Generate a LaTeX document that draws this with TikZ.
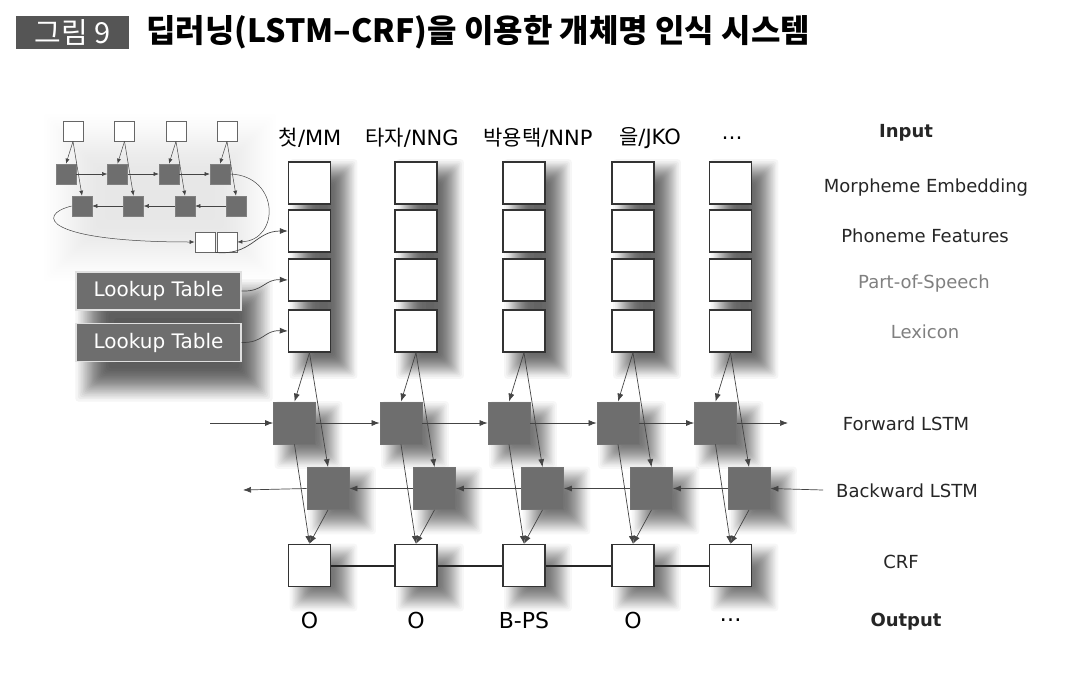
\documentclass[tikz,border=0pt]{standalone}
\usepackage{fontspec}
\setmainfont{DejaVu Sans}
\newfontfamily\kr{Noto Sans CJK KR}
\usetikzlibrary{arrows.meta}

\definecolor{boxgray}{HTML}{6E6E6E}
\definecolor{linegray}{HTML}{444444}
\definecolor{titlegray}{HTML}{555555}

% soft shadow: x1 y1 x2 y2 spread opacity-per-layer
\newcommand\softshade[6]{%
  \foreach \k in {1,...,24}{
    \pgfmathsetmacro\s{0.5-sin(asin(1-2*\k/24)/3)}
    \pgfmathsetmacro\d{#5*(0.5-\s)}
    \fill[black, opacity=#6, rounded corners=3pt] ({#1-\d},{#2-\d}) rectangle ({#3+\d},{#4+\d});
  }}

\tikzset{
  wbox/.style={draw=black!80, line width=1.4pt, fill=white, minimum size=42pt, inner sep=0pt},
  gbox/.style={draw=black!55, line width=0.8pt, fill=boxgray, minimum size=42pt, inner sep=0pt},
  sbox/.style={draw=black!60, line width=0.8pt, fill=white, minimum size=20pt, inner sep=0pt},
  sgbox/.style={draw=black!50, line width=0.6pt, fill=boxgray, minimum size=20pt, inner sep=0pt},
  link/.style={draw=linegray, line width=0.7pt, -{Latex[length=8pt,width=6pt]}},
  slink/.style={draw=linegray, line width=0.5pt, -{Latex[length=5pt,width=4pt]}},
  lut/.style={fill=boxgray, draw=black!12, line width=1.2pt, minimum width=165pt, minimum height=38pt,
    inner sep=0pt, text=white, font=\fontsize{20}{24}\selectfont},
  lab/.style={font=\fontsize{18}{22}\selectfont, text=black!85},
}

\begin{document}
\begin{tikzpicture}[x=1pt,y=-1pt]
\fill[white] (0,0) rectangle (1078,688);
\useasboundingbox (0,0) rectangle (1078,688);

% title
\node[fill=titlegray, text=white, minimum width=113pt, minimum height=33pt, inner sep=0pt,
  font=\kr\fontsize{29}{32}\selectfont] (fignum) at (72.5,32.5) {그림 9};
\node[anchor=west, inner sep=0pt, font=\kr\bfseries\fontsize{32}{36}\selectfont] (title) at (146,32)
  {딥러닝(LSTM–CRF)을 이용한 개체명 인식 시스템};

% shadows
\softshade{70}{140}{250}{255}{70}{0.005}
\softshade{92}{296}{256}{385}{44}{0.04}
\foreach \x in {309.5,416,524,633,730.5}{
  \softshade{\x-7}{172}{\x+35}{366}{34}{0.034}
  \softshade{\x-22}{414}{\x+20}{456}{34}{0.03}
  \softshade{\x+11.5}{479.5}{\x+53.5}{521.5}{34}{0.03}
  \softshade{\x-7}{556.5}{\x+35}{598.5}{34}{0.03}
}

% word columns
\foreach \x [count=\i] in {309.5,416,524,633,730.5}{
  \foreach \r/\y in {1/183,2/231,3/280,4/331}
    \node[wbox] (e\i-\r) at (\x,\y) {};
  \node[gbox] (fw\i) at (\x-15,423) {};
  \node[gbox] (bw\i) at (\x+18.5,488.5) {};
  \node[wbox] (crf\i) at (\x,565.5) {};
  \draw[link] (e\i-4.south) -- (fw\i.north);
  \draw[link] (e\i-4.south) -- (bw\i.north);
  \draw[link] (fw\i.south) -- (crf\i.north);
  \draw[link] (bw\i.south) -- (crf\i.north);
}
\foreach \i/\j in {1/2,2/3,3/4,4/5}{
  \draw[link] (fw\i.east) -- (fw\j.west);
  \draw[link] (bw\j.west) -- (bw\i.east);
  \draw[line width=2pt, black!85] (crf\i.east) -- (crf\j.west);
}
\coordinate (fwin) at (210,423);
\coordinate (fwout) at (788,423);
\coordinate (bwin) at (823,490);
\coordinate (bwout) at (243,490);
\draw[link] (fwin) -- (fw1.west);
\draw[link] (fw5.east) -- (fwout);
\draw[link] (bwin) -- (bw5.east);
\draw[link] (bw1.west) -- (bwout);

% words
\node[font=\fontsize{21}{25}\selectfont] (w1) at (310,138) {{\kr 첫}/MM};
\node[font=\fontsize{21}{25}\selectfont] (w2) at (412,138) {{\kr 타자}/NNG};
\node[font=\fontsize{21}{25}\selectfont] (w3) at (538,138) {{\kr 박용택}/NNP};
\node[font=\fontsize{21}{25}\selectfont] (w4) at (650,138) {{\kr 을}/JKO};
\node[font=\fontsize{21}{25}\selectfont] (w5) at (732,138) {\ldots};

% tags
\foreach \x/\t [count=\i] in {309.5/O,416/O,524/B-PS,633/O,730.5/\ldots}
  \node[font=\fontsize{22}{26}\selectfont] (t\i) at (\x,620) {\t};

% character network
\foreach \x [count=\i] in {73,124.5,176,227}{
  \node[sbox] (ct\i) at (\x,131) {};
  \node[sgbox] (cf\i) at (\x-7,174) {};
  \node[sgbox] (cb\i) at (\x+9,206) {};
  \draw[slink] (ct\i.south) -- (cf\i.north);
  \draw[slink] (ct\i.south) -- (cb\i.north);
}
\foreach \i/\j in {1/2,2/3,3/4}{
  \draw[slink] (cf\i.east) -- (cf\j.west);
  \draw[slink] (cb\j.west) -- (cb\i.east);
}
\node[sbox] (pl) at (205,242) {};
\node[sbox] (pr) at (227,242) {};
\draw[slink] (cf4.east) .. controls (280,176) and (280,240) .. (pr.east);
\draw[slink] (cb1.west) .. controls (35,215) and (45,242) .. (pl.west);
\draw[link] (pl.south east) .. controls (252,256) and (255,231) .. (e1-2.west);

% lookup tables
\node[lut] (lut1) at (158.5,291) {Lookup Table};
\node[lut] (lut2) at (158.5,342.5) {Lookup Table};
\draw[link] (lut1.east) .. controls (264,292) and (264,279) .. (e1-3.west);
\draw[link] (lut2.east) .. controls (264,343) and (264,330) .. (e1-4.west);

% layer names
\node[lab, font=\bfseries\fontsize{18}{22}\selectfont] (linput) at (906,133) {Input};
\node[lab] (lemb) at (926,188) {Morpheme Embedding};
\node[lab] (lpho) at (925,236) {Phoneme Features};
\node[lab, text=black!50] (lpos) at (924,284) {Part-of-Speech};
\node[lab, text=black!50] (llex) at (925,332) {Lexicon};
\node[lab] (lfw) at (906,424) {Forward LSTM};
\node[lab] (lbw) at (907,491) {Backward LSTM};
\node[lab] (lcrf) at (901,562) {CRF};
\node[lab, font=\bfseries\fontsize{18}{22}\selectfont] (lout) at (906,622) {Output};
\end{tikzpicture}
\end{document}
